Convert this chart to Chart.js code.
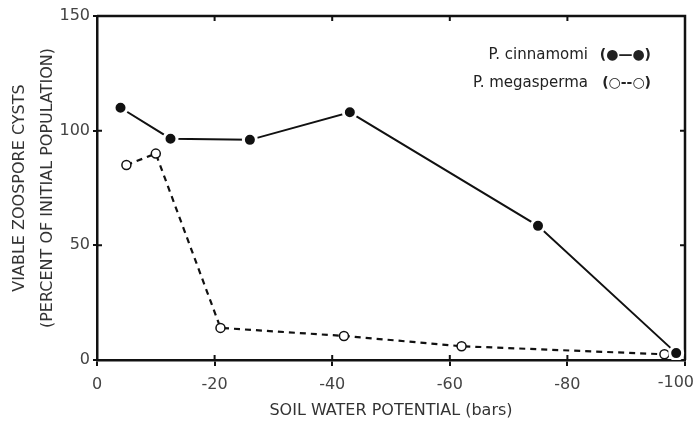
<!DOCTYPE html>
<html>
<head>
<meta charset="utf-8">
<script src="https://cdn.jsdelivr.net/npm/chart.js@4/dist/chart.umd.min.js"></script>
<style>
  html, body { margin: 0; padding: 0; background: #fff; }
  #wrap { width: 695px; height: 421px; }
</style>
</head>
<body>
<div id="wrap"><canvas id="c" width="695" height="421"></canvas></div>
<script>
// ---- data ----
const cinnamomiX = [-4, -12.5, -26, -43, -75, -98.5];
const cinnamomiY = [110, 96.5, 96, 108, 58.5, 3];
const megaspermaX = [-5, -10, -21, -42, -62, -96.5];
const megaspermaY = [85, 90, 14, 10.5, 6, 2.5];
const seriesNames = ['P. cinnamomi', 'P. megasperma'];
const seriesSymbols = ['(\u25CF\u2014\u25CF)', '(\u25CB--\u25CB)'];
const xTicks = [0, -20, -40, -60, -80, -100];
const yTicks = [0, 50, 100, 150];
const xTitle = 'SOIL WATER POTENTIAL (bars)';
const yTitle = ['VIABLE ZOOSPORE CYSTS', '(PERCENT OF INITIAL POPULATION)'];

const toPts = (xs, ys) => xs.map((x, i) => ({ x: x, y: ys[i] }));
const INK = '#111';
const TICKFONT = '16px "DejaVu Sans"';

const framePlugin = {
  id: 'frame',
  beforeDatasetsDraw(chart) {
    const { ctx, chartArea: a, scales } = chart;
    ctx.save();
    ctx.strokeStyle = INK;
    ctx.lineWidth = 2.5;
    ctx.beginPath();
    ctx.moveTo(a.left, a.top);
    ctx.lineTo(a.right, a.top);
    ctx.lineTo(a.right, a.bottom);
    ctx.stroke();
    // inward ticks
    ctx.lineWidth = 2;
    const tl = 5;
    xTicks.forEach(v => {
      if (v === 0 || v === -100) return;
      const px = scales.x.getPixelForValue(v);
      ctx.beginPath();
      ctx.moveTo(px, a.bottom); ctx.lineTo(px, a.bottom - tl);
      ctx.moveTo(px, a.top); ctx.lineTo(px, a.top + tl);
      ctx.stroke();
    });
    yTicks.forEach(v => {
      if (v === 0 || v === 150) return;
      const py = scales.y.getPixelForValue(v);
      ctx.beginPath();
      ctx.moveTo(a.left, py); ctx.lineTo(a.left + tl, py);
      ctx.moveTo(a.right, py); ctx.lineTo(a.right - tl, py);
      ctx.stroke();
    });
    ctx.restore();
  },
  afterDraw(chart) {
    const { ctx, scales, chartArea: a } = chart;
    ctx.save();
    // last x tick label, kept inside the canvas as in the reference
    const last = xTicks[xTicks.length - 1];
    ctx.fillStyle = '#444';
    ctx.font = TICKFONT;
    ctx.textAlign = 'right';
    ctx.textBaseline = 'top';
    ctx.fillText(String(last), scales.x.getPixelForValue(last) + 9, a.bottom + 15);
    // legend text
    ctx.fillStyle = '#222';
    ctx.textBaseline = 'middle';
    const rows = [55, 83];
    seriesNames.forEach((n, i) => {
      ctx.font = '15px "DejaVu Sans"';
      ctx.textAlign = 'right';
      ctx.fillText(n, 588, rows[i]);
      ctx.font = 'bold 14px "DejaVu Sans"';
      ctx.fillText(seriesSymbols[i], 651, rows[i]);
    });
    ctx.restore();
  }
};

new Chart(document.getElementById('c'), {
  type: 'line',
  data: {
    datasets: [
      {
        label: seriesNames[0],
        data: toPts(cinnamomiX, cinnamomiY),
        borderColor: INK,
        borderWidth: 2,
        backgroundColor: INK,
        pointBackgroundColor: INK,
        pointBorderColor: '#fff',
        pointBorderWidth: 3,
        pointRadius: 6.5,
        pointHoverRadius: 6.5,
        tension: 0
      },
      {
        label: seriesNames[1],
        data: toPts(megaspermaX, megaspermaY),
        borderColor: INK,
        borderWidth: 2.2,
        borderDash: [6, 5],
        pointBackgroundColor: '#fff',
        pointBorderColor: INK,
        pointBorderWidth: 1.5,
        pointRadius: 4.5,
        pointHoverRadius: 4.5,
        tension: 0
      }
    ]
  },
  options: {
    responsive: false,
    animation: false,
    layout: { padding: { left: 0, right: 10, top: 16, bottom: 0 } },
    plugins: { legend: { display: false }, tooltip: { enabled: false } },
    scales: {
      x: {
        type: 'linear',
        min: -100, max: 0, reverse: true,
        afterBuildTicks(s) { s.ticks = xTicks.map(v => ({ value: v })); },
        afterFit(s) { s.height = 61; s.paddingRight = 0; s.paddingLeft = 0; },
        border: { display: true, color: INK, width: 2.5 },
        grid: { display: true, drawOnChartArea: false, drawTicks: true, tickLength: 6, color: INK, lineWidth: 2 },
        ticks: {
          color: '#444', padding: 9, font: { family: 'DejaVu Sans', size: 16 }, maxRotation: 0, autoSkip: false,
          callback: v => (v === xTicks[xTicks.length - 1] ? '' : String(v))
        },
        title: { display: true, text: xTitle, color: '#333', font: { family: 'DejaVu Sans', size: 16, lineHeight: 1.2 }, padding: { top: 0, bottom: 1 } }
      },
      y: {
        type: 'linear',
        min: 0, max: 150,
        afterBuildTicks(s) { s.ticks = yTicks.map(v => ({ value: v })); },
        afterFit(s) { s.width = 97; s.paddingTop = 0; s.paddingBottom = 0; },
        border: { display: true, color: INK, width: 2.5 },
        grid: { display: true, drawOnChartArea: false, drawTicks: true, tickLength: 4, color: INK, lineWidth: 2 },
        ticks: { color: '#444', padding: 3, font: { family: 'DejaVu Sans', size: 16 } },
        title: { display: true, text: yTitle, color: '#333', font: { family: 'DejaVu Sans', size: 16, lineHeight: 1.75 }, padding: { top: 6, bottom: 0 } }
      }
    }
  },
  plugins: [framePlugin]
});
</script>
</body>
</html>
